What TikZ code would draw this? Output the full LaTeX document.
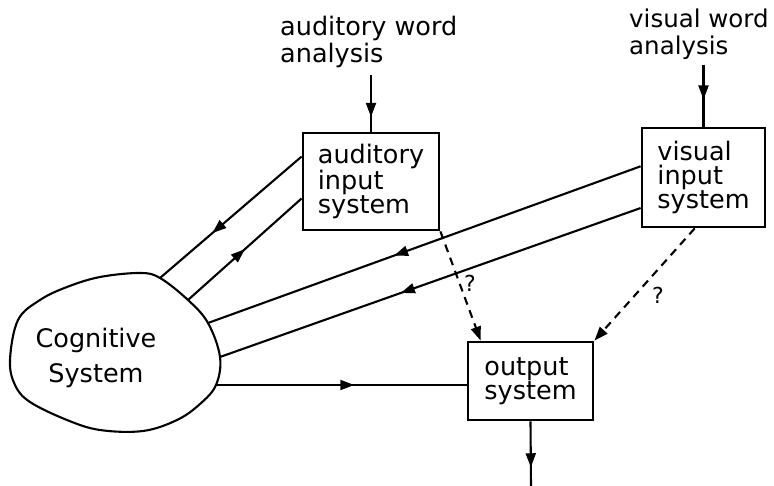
\documentclass[tikz,border=0pt]{standalone}
\usepackage{fontspec}
\setmainfont{DejaVu Sans}
\usetikzlibrary{arrows.meta,decorations.markings,calc}
\begin{document}
\begin{tikzpicture}[x=1pt,y=-1pt,
  txt/.style={font=\fontsize{25.5}{24}\selectfont},
  box/.style={draw,line width=2.8pt,inner sep=0pt,align=left,txt},
  conn/.style={line width=2.1pt},
  dashconn/.style={line width=2.1pt,dash pattern=on 8pt off 6pt,-{Triangle[length=14pt,width=10pt]}},
  midarr/.style={postaction={decorate},decoration={markings,mark=at position #1 with {\arrow{Triangle[length=14pt,width=10pt]}}}}
]
\useasboundingbox (0,0) rectangle (774,486);

% boxes
\node[box,minimum width=136pt,minimum height=97pt] (aud) at (371,181.5) {auditory\\input\\system};
\node[box,minimum width=123pt,minimum height=99pt] (vis) at (703.5,177.5) {visual\\input\\system};
\node[box,minimum width=125pt,minimum height=78pt,font=\fontsize{25.5}{23}\selectfont] (out) at (530.5,381) {output\\system};

% top labels
\node[anchor=north west,inner sep=0pt,align=left,font=\fontsize{25.5}{27}\selectfont] (audlab) at (280,16) {auditory word\\analysis};
\node[anchor=north west,inner sep=0pt,align=left,font=\fontsize{24.5}{27}\selectfont] (vislab) at (629,9) {visual word\\analysis};

% cognitive system blob
\draw[line width=2.1pt] plot[smooth cycle,tension=0.6] coordinates {
  (10,360) (18,320) (40,300) (67,287) (100,277) (140,273) (160,278) (188,300)
  (208,323) (220,357) (216,385) (200,404) (177,420) (143,431) (100,430)
  (67,420) (30,402) (15,385)};
\node[txt,align=center,font=\fontsize{25.5}{35}\selectfont] (cog) at (96,358) {Cognitive\\System};

\coordinate (c1) at (160,278);
\coordinate (c2) at (188,300);
\coordinate (c3) at (208,323);
\coordinate (c4) at (220,357);
\coordinate (c5) at (217,385);
\coordinate (audsrc) at (371,75);
\coordinate (vissrc) at (703.5,65);
\coordinate (outdst) at (531,486);

% cognitive <-> auditory
\draw[conn,midarr=0.63] ($(aud.north west)!0.25!(aud.south west)$) -- (c1);
\draw[conn,midarr=0.50] (c2) -- ($(aud.north west)!0.67!(aud.south west)$);
% visual -> cognitive
\draw[conn,midarr=0.57] ($(vis.north west)!0.39!(vis.south west)$) -- (c3);
\draw[conn,midarr=0.57] ($(vis.north west)!0.80!(vis.south west)$) -- (c4);
% cognitive -> output
\draw[conn,midarr=0.55] (c5) -- (c5 -| out.west);

% inputs and output
\draw[conn,midarr=0.74] (audsrc) -- (aud.north);
\draw[conn,midarr=0.56] (vissrc) -- (vis.north);
\draw[conn,midarr=0.71] (out.south) -- (outdst);

% dashed routes
\draw[dashconn] (aud.south east) -- ($(out.north west)!0.11!(out.north east)$);
\draw[dashconn] ($(vis.south west)!0.43!(vis.south east)$) -- (out.north east);
\node[font=\fontsize{22}{22}\selectfont] (q1) at (470,283) {?};
\node[font=\fontsize{22}{22}\selectfont] (q2) at (658,295) {?};
\end{tikzpicture}
\end{document}
